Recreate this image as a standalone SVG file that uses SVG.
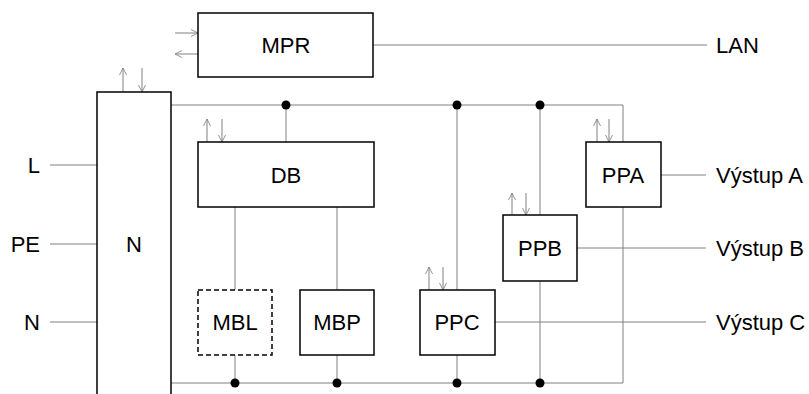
<svg xmlns="http://www.w3.org/2000/svg" width="809" height="394" viewBox="0 0 809 394">
<style>
.box{fill:#fff;stroke:#000;stroke-width:1.5}
.dash{fill:#fff;stroke:#000;stroke-width:1.5;stroke-dasharray:5,3}
.ln{fill:none;stroke:#808080;stroke-width:1}
.ar{fill:none;stroke:#808080;stroke-width:1;marker-end:url(#ah)}
text{font-family:"Liberation Sans",Arial,sans-serif;font-size:22px;fill:#000}
.c{text-anchor:middle}
.e{text-anchor:end}
</style>
<defs>
<marker id="ah" viewBox="0 0 10 10" refX="10" refY="5" markerWidth="7" markerHeight="11" markerUnits="userSpaceOnUse" orient="auto">
<path d="M0,0 L10,5 L0,10" fill="none" stroke="#808080" stroke-width="1.2"/>
</marker>
</defs>
<rect width="809" height="394" fill="#fff"/>
<g id="connectors">
<line class="ln" x1="373" y1="45" x2="707" y2="45"/>
<polyline class="ln" points="171,105 623,105 623,142"/>
<line class="ln" x1="286" y1="105" x2="286" y2="142"/>
<line class="ln" x1="457" y1="105" x2="457" y2="290"/>
<line class="ln" x1="540" y1="105" x2="540" y2="215"/>
<line class="ln" x1="235" y1="207" x2="235" y2="290"/>
<line class="ln" x1="337" y1="207" x2="337" y2="290"/>
<polyline class="ln" points="171,383 623,383 623,207"/>
<line class="ln" x1="235" y1="355" x2="235" y2="383"/>
<line class="ln" x1="337" y1="355" x2="337" y2="383"/>
<line class="ln" x1="457" y1="355" x2="457" y2="383"/>
<line class="ln" x1="540" y1="281" x2="540" y2="383"/>
<line class="ln" x1="661" y1="175" x2="706" y2="175"/>
<line class="ln" x1="577" y1="248" x2="706" y2="248"/>
<line class="ln" x1="495" y1="322" x2="706" y2="322"/>
<line class="ln" x1="50" y1="165" x2="97" y2="165"/>
<line class="ln" x1="50" y1="244" x2="97" y2="244"/>
<line class="ln" x1="50" y1="322" x2="97" y2="322"/>
<circle cx="286" cy="105" r="4.5" fill="#000"/>
<circle cx="457" cy="105" r="4.5" fill="#000"/>
<circle cx="540" cy="105" r="4.5" fill="#000"/>
<circle cx="235" cy="383" r="4.5" fill="#000"/>
<circle cx="337" cy="383" r="4.5" fill="#000"/>
<circle cx="457" cy="383" r="4.5" fill="#000"/>
<circle cx="540" cy="383" r="4.5" fill="#000"/>
<line class="ar" x1="175" y1="33" x2="198" y2="33"/>
<line class="ar" x1="198" y1="54" x2="175" y2="54"/>
<line class="ar" x1="123" y1="92" x2="123" y2="68"/>
<line class="ar" x1="142" y1="68" x2="142" y2="92"/>
<line class="ar" x1="207" y1="142" x2="207" y2="119"/>
<line class="ar" x1="222" y1="119" x2="222" y2="142"/>
<line class="ar" x1="597" y1="142" x2="597" y2="119"/>
<line class="ar" x1="609" y1="119" x2="609" y2="142"/>
<line class="ar" x1="512" y1="215" x2="512" y2="193"/>
<line class="ar" x1="526" y1="193" x2="526" y2="215"/>
<line class="ar" x1="429" y1="290" x2="429" y2="267"/>
<line class="ar" x1="443" y1="267" x2="443" y2="290"/>
</g>
<g id="MPR"><rect class="box" x="198" y="13" width="175" height="64"/><text class="c" x="286" y="53">MPR</text></g>
<g id="N"><rect class="box" x="97" y="92" width="74" height="310"/><text class="c" x="134" y="252">N</text></g>
<g id="DB"><rect class="box" x="198" y="142" width="176" height="65"/><text class="c" x="286" y="183">DB</text></g>
<g id="PPA"><rect class="box" x="586" y="142" width="75" height="65"/><text class="c" x="623" y="183">PPA</text></g>
<g id="PPB"><rect class="box" x="503" y="215" width="74" height="66"/><text class="c" x="540" y="256">PPB</text></g>
<g id="PPC"><rect class="box" x="420" y="290" width="75" height="65"/><text class="c" x="457" y="330">PPC</text></g>
<g id="MBL"><rect class="dash" x="198" y="290" width="74" height="65"/><text class="c" x="235" y="330">MBL</text></g>
<g id="MBP"><rect class="box" x="300" y="290" width="74" height="65"/><text class="c" x="337" y="330">MBP</text></g>
<g id="labels">
<text x="716" y="53">LAN</text>
<text x="716" y="183">Výstup A</text>
<text x="716" y="256">Výstup B</text>
<text x="716" y="330">Výstup C</text>
<text class="e" x="40" y="173">L</text>
<text class="e" x="40" y="252">PE</text>
<text class="e" x="40" y="330">N</text>
</g>
</svg>
